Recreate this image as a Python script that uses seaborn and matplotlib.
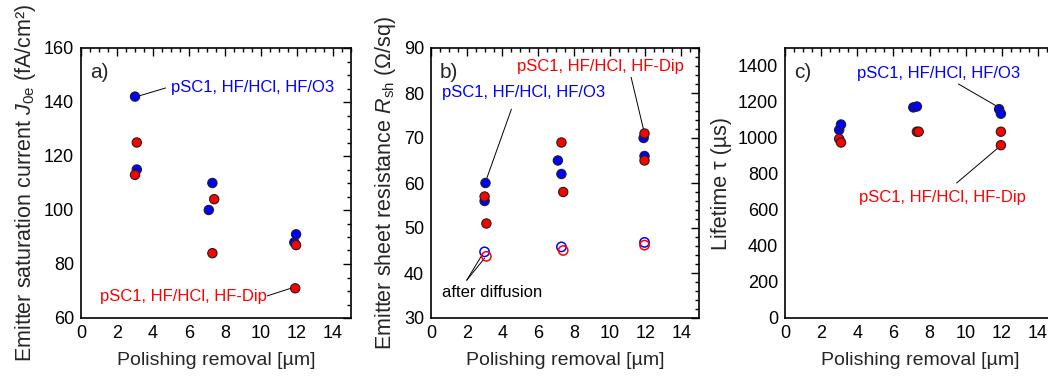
import matplotlib
matplotlib.use("Agg")
import matplotlib.pyplot as plt
import seaborn as sns
import pandas as pd
from matplotlib.ticker import MultipleLocator

sns.set_style("white")
plt.rcParams['font.family'] = ['Liberation Sans', 'DejaVu Sans']
plt.rcParams['mathtext.fontset'] = 'custom'
plt.rcParams['mathtext.it'] = 'Liberation Sans:italic'
plt.rcParams['mathtext.rm'] = 'Liberation Sans'

BLUE = "#0000ff"
RED = "#ff0000"

# a) emitter saturation current J0e
j0e_blue_x = [3.0, 3.1, 7.1, 7.3, 11.85, 11.95]
j0e_blue_y = [142, 115, 100, 110, 88, 91]
j0e_red_x = [3.0, 3.1, 7.3, 7.4, 11.95, 11.9]
j0e_red_y = [113, 125, 84, 104, 87, 71]

# b) sheet resistance Rsh
rsh_blue_x = [3.05, 3.0, 7.1, 7.3, 11.9, 11.95]
rsh_blue_y = [60, 56, 65, 62, 70, 66]
rsh_red_x = [3.0, 3.1, 7.3, 7.4, 11.95, 11.95]
rsh_red_y = [57, 51, 69, 58, 71, 65]
rsh_diff_blue_x = [3.0, 7.3, 11.95]
rsh_diff_blue_y = [44.7, 45.8, 46.8]
rsh_diff_red_x = [3.1, 7.4, 11.95]
rsh_diff_red_y = [43.7, 45.0, 46.2]

# c) lifetime tau
tau_blue_x = [3.0, 3.1, 7.1, 7.3, 11.85, 11.95]
tau_blue_y = [1045, 1075, 1170, 1175, 1160, 1135]
tau_red_x = [3.0, 3.1, 7.3, 7.4, 11.95, 11.95]
tau_red_y = [995, 975, 1035, 1035, 1035, 960]

LBL_O3 = "pSC1, HF/HCl, HF/O3"
LBL_DIP = "pSC1, HF/HCl, HF-Dip"


def make_df(bx, by, rx, ry):
    return pd.concat([
        pd.DataFrame({"x": bx, "y": by, "g": LBL_O3}),
        pd.DataFrame({"x": rx, "y": ry, "g": LBL_DIP}),
    ], ignore_index=True)


W, H = 1048, 385
fig = plt.figure(figsize=(W / 100, H / 100), dpi=100)


def axes_px(x0, x1, y0, y1):
    return fig.add_axes([x0 / W, 1 - y1 / H, (x1 - x0) / W, (y1 - y0) / H])


ax_a = axes_px(81, 351, 48, 318)
ax_b = axes_px(431, 699, 48, 318)
ax_c = axes_px(785, 1056, 48, 318)

pal = {LBL_O3: BLUE, LBL_DIP: RED}


def filled(ax, df):
    sns.scatterplot(data=df, x="x", y="y", hue="g", palette=pal, s=45,
                    edgecolor="#202020", linewidth=0.8, legend=False, ax=ax,
                    zorder=3)


filled(ax_a, make_df(j0e_blue_x, j0e_blue_y, j0e_red_x, j0e_red_y))
filled(ax_b, make_df(rsh_blue_x, rsh_blue_y, rsh_red_x, rsh_red_y))
df_open = make_df(rsh_diff_blue_x, rsh_diff_blue_y, rsh_diff_red_x, rsh_diff_red_y)
for g, col in pal.items():
    sub = df_open[df_open.g == g]
    sns.scatterplot(data=sub, x="x", y="y", s=45, facecolor="none",
                    edgecolor=col, linewidth=1.1, legend=False, ax=ax_b, zorder=3)
filled(ax_c, make_df(tau_blue_x, tau_blue_y, tau_red_x, tau_red_y))

for ax, ylim, major, minor, letter in [
    (ax_a, (60, 160), 20, 5, "a)"),
    (ax_b, (30, 90), 10, 2, "b)"),
    (ax_c, (0, 1500), 200, 50, "c)"),
]:
    ax.set_xlim(0, 15)
    ax.set_ylim(*ylim)
    ax.xaxis.set_major_locator(MultipleLocator(2))
    ax.xaxis.set_minor_locator(MultipleLocator(0.5))
    ax.yaxis.set_major_locator(MultipleLocator(major))
    ax.yaxis.set_minor_locator(MultipleLocator(minor))
    ax.tick_params(which="both", direction="in", top=True, right=True,
                   labelsize=13, colors="black", width=1)
    ax.tick_params(which="major", length=6, pad=5)
    ax.tick_params(which="minor", length=3)
    for sp in ax.spines.values():
        sp.set_color("black")
        sp.set_linewidth(1.2)
    ax.set_xlabel("Polishing removal [µm]", fontsize=14, labelpad=7)
    ax.text(0.5, ylim[1] - (ylim[1] - ylim[0]) * 0.09, letter, fontsize=15,
            va="center", ha="left")
    ax.set_xticks([0, 2, 4, 6, 8, 10, 12, 14])

ax_a.set_ylabel(r"Emitter saturation current $J_{\rm 0e}$ (fA/cm²)", fontsize=15.5, labelpad=4)
ax_b.set_ylabel(r"Emitter sheet resistance $R_{\rm sh}$ ($\Omega$/sq)", fontsize=15.5, labelpad=4)
ax_c.set_ylabel("Lifetime τ (µs)", fontsize=15.5, labelpad=4)

line = dict(color="black", lw=0.7)
txt = dict(fontsize=12, va="center")

# panel a annotations
ax_a.text(5.0, 145.5, LBL_O3, color=BLUE, ha="left", **txt)
ax_a.plot([3.25, 4.7], [142.3, 145.2], **line)
ax_a.text(10.3, 67.8, LBL_DIP, color=RED, ha="right", **txt)
ax_a.plot([10.35, 11.65], [68.2, 71.0], **line)

# panel b annotations
ax_b.text(4.8, 85.8, LBL_DIP, color=RED, ha="left", **txt)
ax_b.plot([11.2, 11.9], [83.5, 71.8], **line)
ax_b.text(0.6, 80.0, LBL_O3, color=BLUE, ha="left", **txt)
ax_b.plot([4.5, 3.1], [76.4, 60.8], **line)
ax_b.text(0.6, 35.6, "after diffusion", color="black", ha="left", **txt)
ax_b.plot([2.0, 2.9], [38.4, 44.3], **line)
ax_b.plot([2.0, 3.0], [38.4, 43.3], **line)

# panel c annotations
ax_c.text(4.0, 1361, LBL_O3, color=BLUE, ha="left", **txt)
ax_c.plot([9.6, 11.75], [1300, 1175], **line)
ax_c.text(4.1, 667, LBL_DIP, color=RED, ha="left", **txt)
ax_c.plot([9.5, 11.85], [750, 950], **line)

fig.savefig("out.png", dpi=100)
